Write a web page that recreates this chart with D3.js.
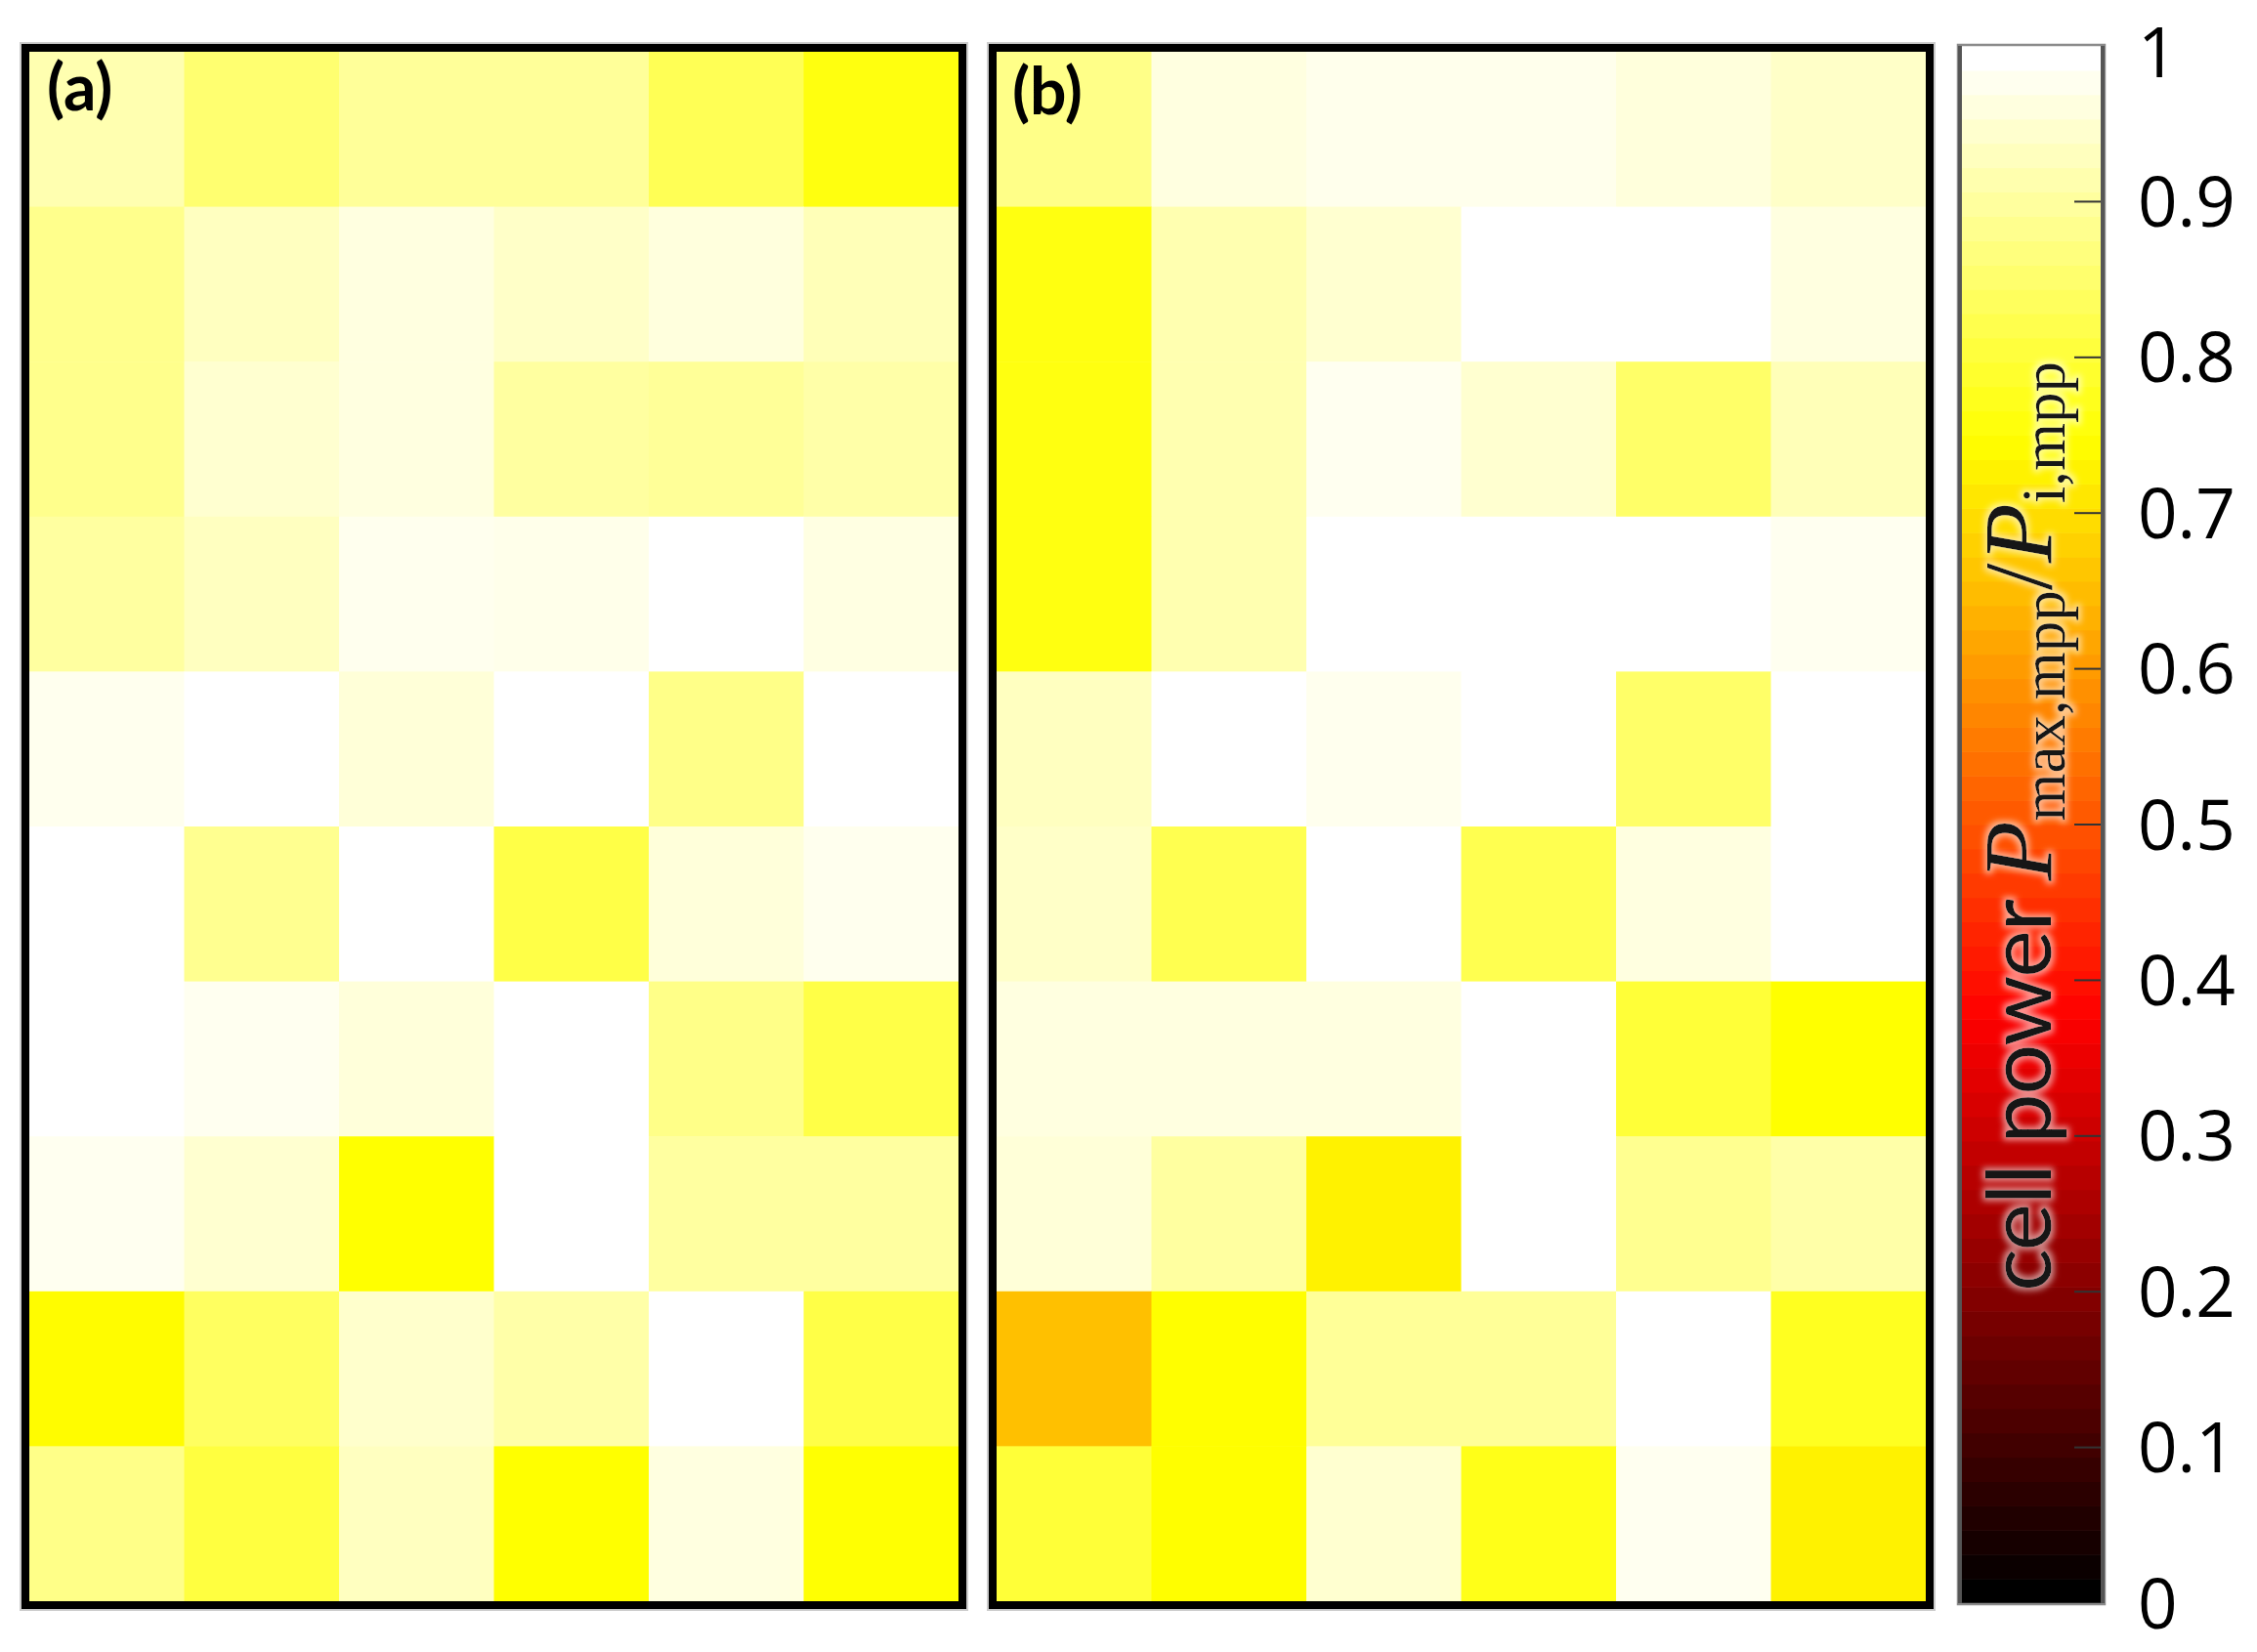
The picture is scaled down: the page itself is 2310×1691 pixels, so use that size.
<!DOCTYPE html>
<html>
<head>
<meta charset="utf-8">
<script src="https://cdn.jsdelivr.net/npm/d3@7/dist/d3.min.js"></script>
<style>
  html, body { margin: 0; padding: 0; background: #fff; }
  svg { display: block; }
</style>
</head>
<body>
<script>
// ---- data (cell power ratio, rows top→bottom, columns left→right) ----
const columns = [0, 1, 2, 3, 4, 5];
const rows = [0, 1, 2, 3, 4, 5, 6, 7, 8, 9];
const panelA = [
  [0.923, 0.860, 0.900, 0.900, 0.833, 0.765],
  [0.887, 0.938, 0.970, 0.946, 0.967, 0.930],
  [0.887, 0.954, 0.970, 0.907, 0.899, 0.915],
  [0.907, 0.938, 0.983, 0.979, 1.000, 0.972],
  [0.983, 1.000, 0.962, 1.000, 0.883, 1.000],
  [1.000, 0.891, 1.000, 0.820, 0.964, 0.983],
  [1.000, 0.985, 0.964, 1.000, 0.883, 0.820],
  [0.985, 0.954, 0.750, 1.000, 0.907, 0.907],
  [0.746, 0.844, 0.950, 0.915, 1.000, 0.820],
  [0.883, 0.813, 0.938, 0.750, 0.970, 0.752]
];
const panelB = [
  [0.883, 0.970, 0.981, 0.981, 0.966, 0.946],
  [0.766, 0.923, 0.954, 1.000, 1.000, 0.970],
  [0.766, 0.923, 0.985, 0.954, 0.852, 0.930],
  [0.766, 0.923, 1.000, 1.000, 1.000, 0.985],
  [0.938, 1.000, 0.983, 1.000, 0.852, 1.000],
  [0.946, 0.828, 1.000, 0.828, 0.970, 1.000],
  [0.970, 0.970, 0.970, 1.000, 0.805, 0.750],
  [0.962, 0.907, 0.731, 1.000, 0.891, 0.915],
  [0.657, 0.748, 0.899, 0.899, 1.000, 0.781],
  [0.805, 0.749, 0.954, 0.774, 0.985, 0.731]
];
const panelLabels = ["(a)", "(b)"];
const tickValues = [0, 0.1, 0.2, 0.3, 0.4, 0.5, 0.6, 0.7, 0.8, 0.9, 1];
const tickLabels = ["0", "0.1", "0.2", "0.3", "0.4", "0.5", "0.6", "0.7", "0.8", "0.9", "1"];

// ---- colormap (hot: black → red → yellow → white) ----
const clamp = v => Math.max(0, Math.min(1, v));
function hot(t) {
  const r = clamp(t / 0.375), g = clamp((t - 0.375) / 0.375), b = clamp((t - 0.75) / 0.25);
  return d3.rgb(Math.round(r * 255), Math.round(g * 255), Math.round(b * 255)).formatHex();
}
const color = d3.scaleSequential(hot).domain([0, 1]);

const W = 2310, H = 1691;
const svg = d3.select("body").append("svg").attr("width", W).attr("height", H);

const defs = svg.append("defs");
const f = defs.append("filter").attr("id", "glow")
  .attr("x", "-10%").attr("y", "-60%").attr("width", "120%").attr("height", "220%");
f.append("feMorphology").attr("in", "SourceAlpha").attr("operator", "dilate").attr("radius", 3).attr("result", "d");
f.append("feGaussianBlur").attr("in", "d").attr("stdDeviation", 3).attr("result", "b");
f.append("feFlood").attr("flood-color", "#ffffff").attr("flood-opacity", 0.55).attr("result", "fl");
f.append("feComposite").attr("in", "fl").attr("in2", "b").attr("operator", "in").attr("result", "g");
const fm = f.append("feMerge");
fm.append("feMergeNode").attr("in", "g");
fm.append("feMergeNode").attr("in", "SourceGraphic");

// ---- panels ----
const panels = [
  { data: panelA, x0: 30, label: panelLabels[0], lx: 48, ly: 113 },
  { data: panelB, x0: 1020, label: panelLabels[1], lx: 1036, ly: 117 }
];
const gridTop = 53, gw = 951, gh = 1586;
const x = d3.scaleBand().domain(columns).range([0, gw]);
const y = d3.scaleBand().domain(rows).range([0, gh]);

panels.forEach(p => {
  const g = svg.append("g").attr("transform", `translate(${p.x0},${gridTop})`);
  const cells = [];
  p.data.forEach((row, ri) => row.forEach((v, ci) => cells.push({ r: ri, c: ci, v })));
  g.selectAll("rect.cell").data(cells).join("rect")
    .attr("class", "cell")
    .attr("x", d => x(d.c)).attr("y", d => y(d.r))
    .attr("width", x.bandwidth() + 0.5).attr("height", y.bandwidth() + 0.5)
    .attr("fill", d => color(d.v));
  g.append("rect").attr("x", -5).attr("y", -5).attr("width", gw + 10).attr("height", gh + 10)
    .attr("fill", "none").attr("stroke", "#9a9a9a").attr("stroke-width", 10).attr("opacity", 0.5);
  g.append("rect").attr("x", -4).attr("y", -4).attr("width", gw + 8).attr("height", gh + 8)
    .attr("fill", "none").attr("stroke", "#000").attr("stroke-width", 8);
  svg.append("text").attr("x", p.lx).attr("y", p.ly)
    .attr("font-family", "Lato, 'Open Sans', sans-serif").attr("font-weight", 700)
    .attr("font-size", 66).attr("fill", "#000").text(p.label);
});

// ---- colorbar ----
const cbX = 2005, cbW = 148, cbTop = 47, cbBot = 1641;
const cy = d3.scaleLinear().domain([0, 1]).range([cbBot, cbTop]);
const nb = 64;
const bands = d3.range(nb).map(i => ({ lo: i / nb, hi: (i + 1) / nb, t: i / (nb - 1) }));
svg.append("g").selectAll("rect").data(bands).join("rect")
  .attr("x", cbX).attr("width", cbW)
  .attr("y", d => cy(d.hi)).attr("height", d => cy(d.lo) - cy(d.hi) + 0.6)
  .attr("fill", d => color(d.t));

svg.append("g").selectAll("line").data(tickValues.filter(v => v > 0 && v < 1)).join("line")
  .attr("x1", cbX + cbW - 30).attr("x2", cbX + cbW)
  .attr("y1", d => cy(d)).attr("y2", d => cy(d))
  .attr("stroke", "#333").attr("stroke-width", 2);

svg.append("rect").attr("x", cbX - 1).attr("y", cbTop - 1).attr("width", cbW + 2).attr("height", cbBot - cbTop + 2)
  .attr("fill", "none").attr("stroke", "#8a8a8a").attr("stroke-width", 2.5);
svg.append("line").attr("x1", cbX + 1).attr("x2", cbX + 1).attr("y1", cbTop).attr("y2", cbBot)
  .attr("stroke", "#555").attr("stroke-width", 4);
svg.append("line").attr("x1", cbX + cbW - 1).attr("x2", cbX + cbW - 1).attr("y1", cbTop).attr("y2", cbBot)
  .attr("stroke", "#555").attr("stroke-width", 4);

svg.append("g").selectAll("text").data(tickValues).join("text")
  .attr("x", 2188).attr("y", d => cy(d) + (d === 1 ? 6 : 0))
  .attr("dy", "0.36em").attr("text-anchor", "start")
  .attr("font-family", "'Open Sans', 'DejaVu Sans', sans-serif").attr("font-size", 71).attr("fill", "#000")
  .text((d, i) => tickLabels[i]);

const serif = "'Liberation Serif', 'DejaVu Serif', serif";
const title = svg.append("text")
  .attr("transform", "translate(2099,846) rotate(-90)")
  .attr("text-anchor", "middle").attr("fill", "#151515").attr("filter", "url(#glow)");
title.append("tspan").attr("font-family", "Lato, sans-serif").attr("font-size", 92)
  .attr("letter-spacing", -1.5).text("cell power ");
title.append("tspan").attr("font-family", serif).attr("font-style", "italic")
  .attr("font-size", 100).text("P");
title.append("tspan").attr("font-family", serif)
  .attr("font-size", 63).attr("dy", 14).text("max,mpp");
title.append("tspan").attr("font-family", serif)
  .attr("font-size", 100).attr("dy", -14).text("/");
title.append("tspan").attr("font-family", serif).attr("font-style", "italic")
  .attr("font-size", 100).text("P");
title.append("tspan").attr("font-family", serif)
  .attr("font-size", 63).attr("dy", 14).text("i,mpp");
</script>
</body>
</html>
